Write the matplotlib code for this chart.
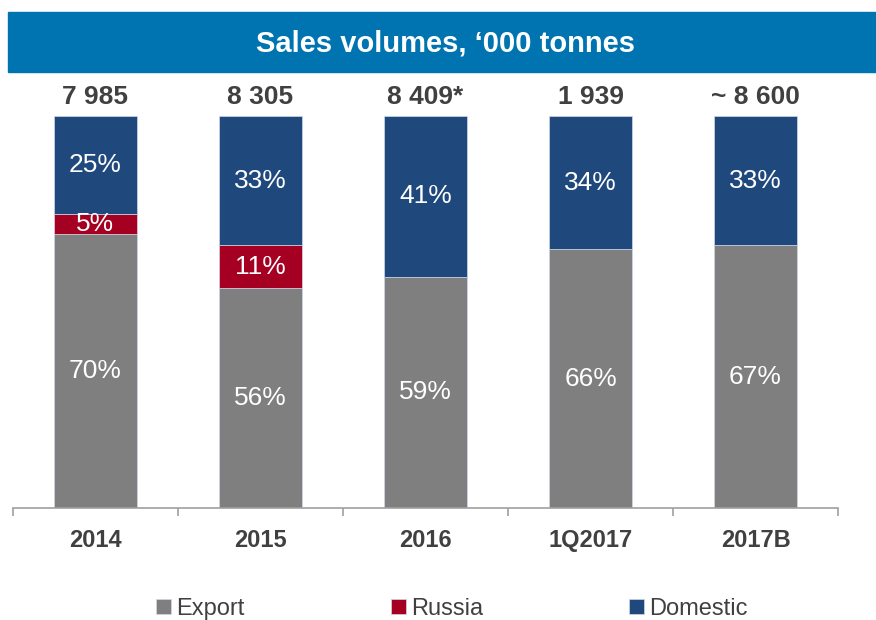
import numpy as np
import matplotlib.pyplot as plt
from matplotlib.patches import Rectangle

plt.rcParams['font.family'] = ['Liberation Sans', 'DejaVu Sans']

# data
categories = ['2014', '2015', '2016', '1Q2017', '2017B']
totals = ['7 985', '8 305', '8 409*', '1 939', '~ 8 600']
export = [70, 56, 59, 66, 67]
russia = [5, 11, 0, 0, 0]
domestic = [25, 33, 41, 34, 33]

c_export = '#7f7f7f'
c_russia = '#a50021'
c_domestic = '#1f497d'
c_text = '#404040'

fig = plt.figure(figsize=(8.76, 6.2), dpi=100)

# title banner
fig.patches.append(Rectangle((8/876, 1 - 72/620), 1, 60/620, transform=fig.transFigure,
                             color='#0074b0', zorder=0))
fig.text(446/876, 1 - 43/620, 'Sales volumes, \u2018000 tonnes', color='white',
         fontsize=21, fontweight='bold', ha='center', va='center')

ax = fig.add_axes([13/876, 1 - 508/620, 825/876, 392/620])
x = np.arange(len(categories))
w = 0.5
bottom = np.zeros(len(categories))
for vals, col, name in [(export, c_export, 'Export'), (russia, c_russia, 'Russia'),
                        (domestic, c_domestic, 'Domestic')]:
    vals = np.array(vals)
    ax.bar(x, vals, w, bottom=bottom, color=col, label=name,
           edgecolor='#d0d8e8', linewidth=0.5)
    for xi, b, v in zip(x, bottom, vals):
        if v > 0:
            ax.text(xi, b + v / 2, f'{v}%', color='white', fontsize=19,
                    ha='center', va='center')
    bottom = bottom + vals

for xi, t in zip(x, totals):
    ax.text(xi, 104.8, t, color=c_text, fontsize=19, fontweight='bold',
            ha='center', va='center', clip_on=False)

ax.set_xlim(-0.5, len(categories) - 0.5)
ax.set_ylim(0, 100)
ax.set_yticks([])
ax.set_xticks(np.arange(-0.5, len(categories)), minor=False)
ax.set_xticklabels([])
ax.tick_params(axis='x', length=6, color='#a0a0a0', width=1.2, direction='out')
ax.set_xticks(x, minor=True)
ax.set_xticklabels(categories, minor=True)
ax.tick_params(axis='x', which='minor', length=0, pad=15, labelsize=17,
               labelcolor=c_text)
for lbl in ax.get_xticklabels(minor=True):
    lbl.set_fontweight('bold')
for s in ['top', 'right', 'left']:
    ax.spines[s].set_visible(False)
ax.spines['bottom'].set_color('#a0a0a0')
ax.spines['bottom'].set_linewidth(1.2)

leg = fig.legend(loc='center', bbox_to_anchor=(452/876, 1 - 609/620), ncol=3,
                 frameon=False, fontsize=17, handlelength=0.62, handleheight=0.62,
                 handletextpad=0.22, columnspacing=6.2)
for t in leg.get_texts():
    t.set_color(c_text)

plt.savefig('out.png', dpi=100)
